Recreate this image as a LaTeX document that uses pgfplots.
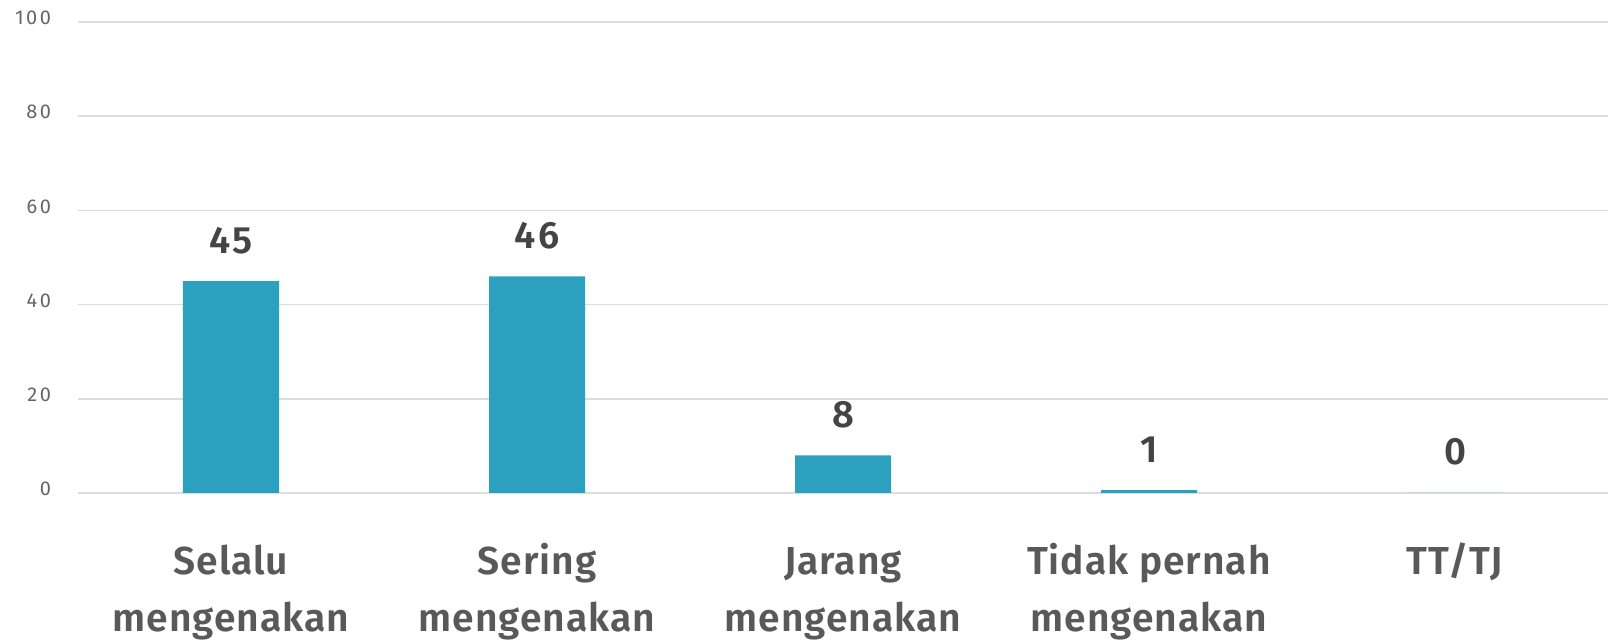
\documentclass[border=0pt]{standalone}
\usepackage{pgfplots}
\pgfplotsset{compat=1.18}
\usepackage{fontspec}
\setmainfont{Fira Sans}
\newfontfamily\catfont{Fira Sans SemiBold}[LetterSpace=2.5]
\newfontfamily\valfont{Fira Sans SemiBold}[LetterSpace=6]
\newfontfamily\tickfont{Fira Sans}[LetterSpace=12]
\definecolor{barblue}{HTML}{2CA1BF}
\definecolor{gridgray}{HTML}{DDDDDD}
\definecolor{ticktext}{HTML}{666666}
\definecolor{cattext}{HTML}{595959}
\definecolor{valtext}{HTML}{444444}
\begin{document}
\begin{tikzpicture}
\useasboundingbox (-39pt,-73.5pt) rectangle (765pt,246.5pt);
\clip (-39pt,-73.5pt) rectangle (765pt,246.5pt);
\begin{axis}[
  overlay,
  at={(0,0)}, anchor=south west,
  scale only axis,
  width=765pt, height=235.5pt,
  xmin=-0.5, xmax=4.5,
  ymin=0, ymax=100,
  ytick={0,20,...,100},
  xtick=data,
  % every label has two lines so that the first lines share one baseline
  xticklabels={Selalu\\mengenakan, Sering\\mengenakan, Jarang\\mengenakan, Tidak pernah\\mengenakan, TT/TJ\\\mbox{}},
  axis line style={draw=none},
  major tick length=0pt,
  ymajorgrids,
  grid style={gridgray, line width=0.8pt},
  yticklabel style={font=\tickfont\fontsize{10}{12}\selectfont, text=ticktext, xshift=-10pt, yshift=2pt},
  xticklabel style={font=\catfont\fontsize{19.5}{28.5}\selectfont, text=cattext, align=center, anchor=base, inner sep=0pt, yshift=-69.5pt},
  /pgf/number format/assume math mode=true,
  clip=false,
]
\addplot[ybar, bar width=48pt, fill=barblue, draw=none,
  nodes near coords={\pgfplotspointmeta},
  point meta=explicit symbolic,
  every node near coord/.append style={font=\valfont\fontsize{19}{22}\selectfont, text=valtext, anchor=base, inner sep=0pt, yshift=14pt}]
  coordinates {(0,45) [45] (1,46) [46] (2,8) [8] (3,0.6) [1] (4,0) [0]};
\end{axis}
\end{tikzpicture}
\end{document}
